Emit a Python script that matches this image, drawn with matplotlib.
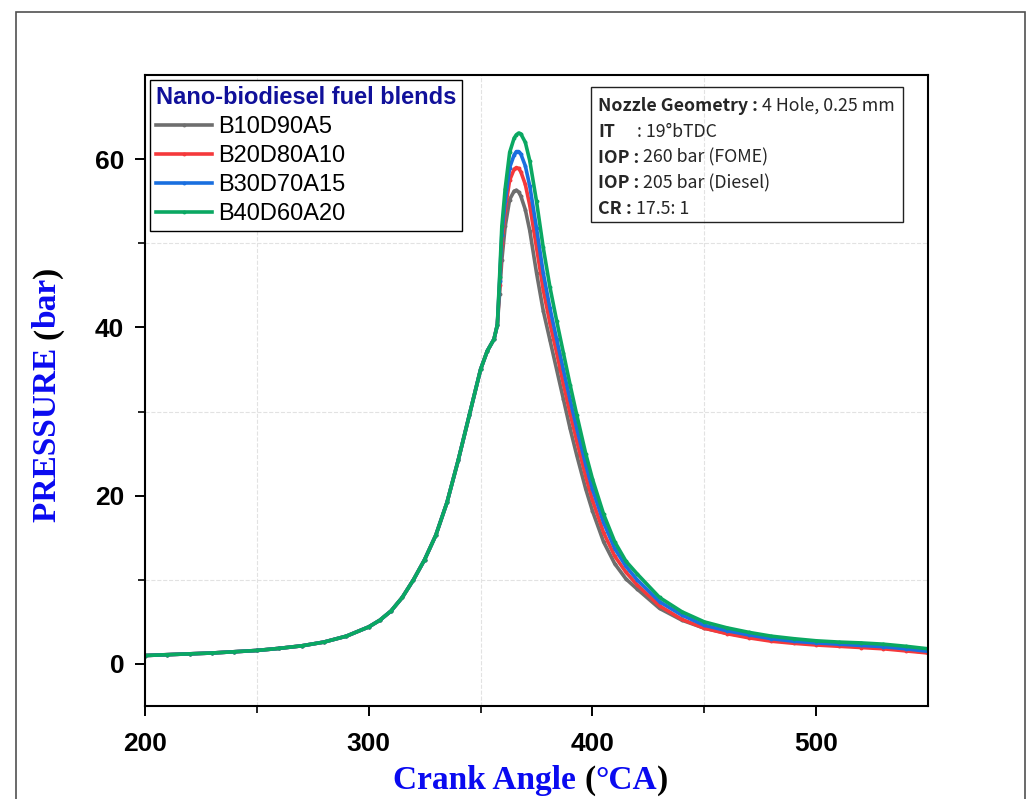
import matplotlib
matplotlib.use("Agg")
import matplotlib.pyplot as plt
from matplotlib.lines import Line2D
from matplotlib.patches import Rectangle
from matplotlib.transforms import IdentityTransform

W, H = 1027, 799

# cylinder pressure (bar) vs crank angle (deg CA)
ca_compression = [200, 210, 220, 230, 240, 250, 260, 270, 280, 290, 300, 305, 310,
                  315, 320, 325, 330, 335, 340, 345, 350, 353, 356, 357.5]
p_compression = [1.0, 1.1, 1.2, 1.3, 1.45, 1.6, 1.85, 2.15, 2.6, 3.3, 4.4, 5.2, 6.3,
                 7.9, 10.0, 12.4, 15.3, 19.2, 24.2, 29.6, 35.0, 37.2, 38.6, 40.3]

ca_combustion = [358.5, 359.5, 361, 363, 365, 366, 367, 368, 370, 372, 375, 378, 381,
                 384, 387, 390, 393, 397, 400, 405, 410, 415, 420, 430, 440, 450, 460,
                 470, 480, 490, 500, 510, 520, 530, 540, 550]
p_b10 = [44, 48, 52, 55.2, 56.2, 56.3, 56.1, 55.6, 54.0, 51.5, 46.5, 42.0, 38.5,
         35.0, 31.5, 28.0, 24.8, 20.8, 18.2, 14.5, 11.9, 10.1, 8.9, 6.6, 5.2, 4.25, 3.65,
         3.2, 2.8, 2.55, 2.35, 2.2, 2.05, 1.9, 1.65, 1.35]
p_b20 = [45, 50, 54, 57.5, 58.8, 59.0, 58.9, 58.5, 57.0, 54.5, 49.5, 44.5, 40.5,
         37.0, 33.3, 29.8, 26.5, 22.3, 19.5, 15.6, 12.8, 10.9, 9.4, 6.9, 5.3, 4.25, 3.6,
         3.1, 2.7, 2.45, 2.25, 2.1, 1.95, 1.8, 1.55, 1.3]
p_b30 = [45.5, 51, 55, 59.0, 60.5, 60.9, 60.9, 60.6, 59.2, 56.8, 51.8, 46.5, 42.3,
         38.6, 35.0, 31.4, 28.0, 23.7, 20.8, 16.8, 13.7, 11.6, 10.0, 7.4, 5.8, 4.6, 3.95,
         3.45, 3.0, 2.7, 2.5, 2.35, 2.2, 2.05, 1.8, 1.5]
p_b40 = [46, 52, 56.5, 60.8, 62.5, 62.9, 63.1, 63.0, 62.0, 59.8, 55.0, 49.5, 44.8,
         40.8, 37.0, 33.2, 29.6, 25.0, 22.0, 17.8, 14.5, 12.2, 10.7, 7.9, 6.2, 5.0, 4.3,
         3.75, 3.3, 3.0, 2.75, 2.6, 2.5, 2.35, 2.1, 1.8]

blends = ["B10D90A5", "B20D80A10", "B30D70A15", "B40D60A20"]
colors = ["#6e6e6e", "#f5393b", "#1a6fdf", "#0aa862"]

info_rows = [
    [("Nozzle Geometry :", "bold"), (" 4 Hole, 0.25 mm", "normal")],
    [("IT", "bold"), (": 19°bTDC", "normal")],
    [("IOP :", "bold"), (" 260 bar (FOME)", "normal")],
    [("IOP :", "bold"), (" 205 bar (Diesel)", "normal")],
    [("CR", "bold"), (":", "bold"), (" 17.5: 1", "normal")],
]

fig = plt.figure(figsize=(W / 100, H / 100), dpi=100)
ax = fig.add_axes([145 / W, 1 - 706 / H, (928 - 145) / W, (706 - 75) / H])

ca = ca_compression + ca_combustion
for name, tail, c in zip(blends, [p_b10, p_b20, p_b30, p_b40], colors):
    ax.plot(ca, p_compression + tail, color=c, lw=2.6, marker="o", ms=1.8,
            label=name, solid_joinstyle="round")

ax.set_xlim(200, 550)
ax.set_ylim(-5, 70)
ax.set_xticks([200, 300, 400, 500])
ax.set_xticks([250, 350, 450], minor=True)
ax.set_yticks([0, 20, 40, 60])
ax.set_yticks([10, 30, 50], minor=True)
ax.grid(which="minor", ls="--", color="#e2e2e2", lw=0.8)
ax.grid(which="major", visible=False)
ax.tick_params(which="major", direction="out", length=7, width=1.4, pad=8)
ax.tick_params(axis="x", which="major", pad=12)
ax.tick_params(which="minor", direction="out", length=5, width=1.2)
for sp in ax.spines.values():
    sp.set_linewidth(1.5)
for lab in ax.get_xticklabels() + ax.get_yticklabels():
    lab.set_fontfamily("Liberation Sans")
    lab.set_fontweight("bold")
    lab.set_fontsize(19)

leg = ax.legend(loc="upper left", bbox_to_anchor=(0.006, 0.992), borderaxespad=0,
                title="Nano-biodiesel fuel blends", alignment="left",
                prop={"family": "Liberation Sans", "size": 17},
                title_fontproperties={"family": "Liberation Sans", "size": 17, "weight": "bold"},
                fancybox=False, framealpha=1, edgecolor="black", borderpad=0.25,
                handlelength=2.4, handletextpad=0.25, labelspacing=0.3, numpoints=1)
leg.get_frame().set_linewidth(1.0)
leg.get_title().set_color("#10109a")

renderer = fig.canvas.get_renderer()

# underline the legend title
tb = leg.get_title().get_window_extent(renderer)
fig.add_artist(Line2D([tb.x0, tb.x1], [tb.y0 - 1, tb.y0 - 1], transform=IdentityTransform(),
                      color="#10109a", lw=1.6))


def advance(s, props):
    t = fig.text(0, 0, s + "|", **props)
    bar = fig.text(0, 0, "|", **props)
    w = t.get_window_extent(renderer).width - bar.get_window_extent(renderer).width
    t.remove()
    bar.remove()
    return w


def rich(x, y, parts, rotation=0, center=False):
    # parts: (text, props); x, y are pixels from the top-left corner
    widths = [advance(s, p) for s, p in parts]
    if center:
        if rotation:
            y += sum(widths) / 2
        else:
            x -= sum(widths) / 2
    for (s, p), w in zip(parts, widths):
        fig.text(x / W, 1 - y / H, s, ha="left", va="baseline", rotation=rotation,
                 rotation_mode="anchor", **p)
        if rotation:
            y -= w
        else:
            x += w


blue = "#0a0af0"
serif = {"family": "Liberation Serif", "weight": "bold", "size": 24}
rich(531, 789, [("Crank Angle ", {**serif, "color": blue}), ("(", {**serif, "color": "black"}),
                ("°CA", {**serif, "color": blue}), (")", {**serif, "color": "black"})],
     center=True)
rich(56, 394, [("PRESSURE ", {**serif, "color": blue}), ("(", {**serif, "color": "black"}),
               ("bar", {**serif, "color": blue}), (")", {**serif, "color": "black"})],
     rotation=90, center=True)

# engine settings box
fig.add_artist(Rectangle((591 / W, 1 - 222 / H), (903 - 591) / W, (222 - 87) / H,
                         transform=fig.transFigure, fill=False, ec="#222222", lw=1.0))
info_font = {"family": ["Noto Sans CJK JP", "DejaVu Sans"], "size": 12.8, "color": "#262626"}
for i, row in enumerate(info_rows):
    yb = 111 + i * 25.8
    if row[0][0] == "IT":
        rich(598, yb, [(row[0][0], {**info_font, "weight": "bold"})])
        rich(637, yb, [(row[1][0], {**info_font, "weight": row[1][1]})])
    elif row[0][0] == "CR":
        rich(598, yb, [(row[0][0], {**info_font, "weight": "bold"})])
        rich(626, yb, [(s, {**info_font, "weight": w}) for s, w in row[1:]])
    else:
        rich(598, yb, [(s, {**info_font, "weight": w}) for s, w in row])

# outer frame
fig.add_artist(Rectangle((16 / W, 1 - 830 / H), 1009 / W, 818 / H, transform=fig.transFigure,
                         fill=False, ec="#505050", lw=1.2, clip_on=False))

fig.savefig("out.png", dpi=100)
